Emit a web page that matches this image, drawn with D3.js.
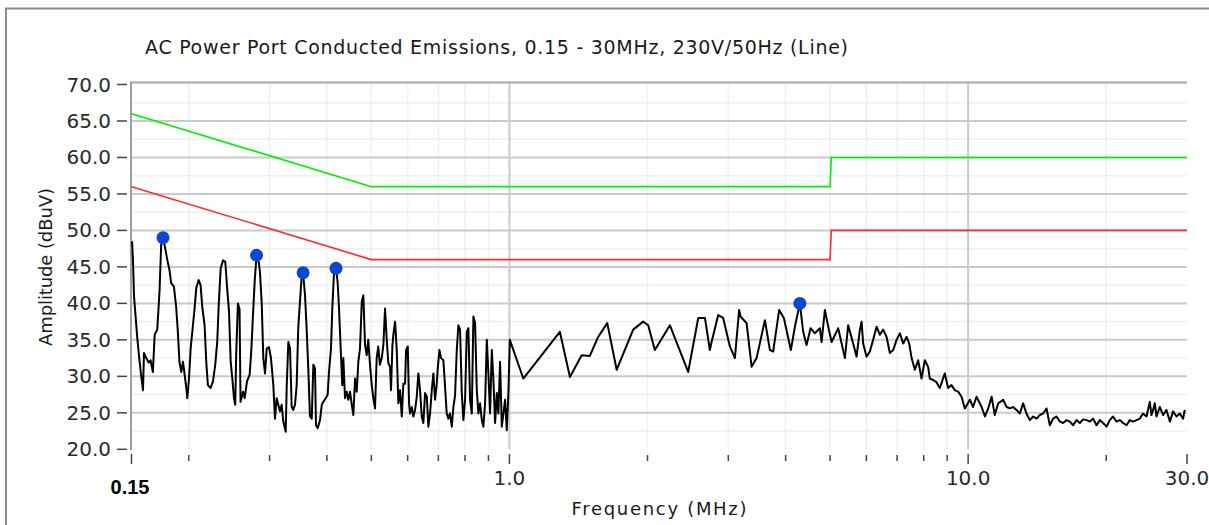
<!DOCTYPE html>
<html lang="en">
<head>
    <meta charset="UTF-8">
    <title>AC Power Port Conducted Emissions</title>
    <script src="https://d3js.org/d3.v7.min.js"></script>
    <style>
        body { margin: 0; background: #fff; }
        svg { font-family: "DejaVu Sans", Verdana, sans-serif; }
        .tick-label { font-size: 20px; fill: #2a2a2a; }
        .title { font-size: 19px; fill: #1a1a1a; }
        .axis-title { font-size: 18px; fill: #1a1a1a; }
        .line { fill: none; }
    </style>
</head>
<body>
    <div id="chart"></div>
    <script>
        // Measured trace: frequency (MHz) and amplitude (dBuV)
        const traceFreq = [
            0.1504, 0.1511, 0.1519, 0.1544, 0.1557, 0.1571, 0.1589, 0.1597, 0.1615, 0.1635,
            0.1651, 0.1670, 0.1685, 0.1707, 0.1727, 0.1741, 0.1757, 0.1777, 0.1795, 0.1816,
            0.1830, 0.1856, 0.1877, 0.1893, 0.1908, 0.1926, 0.1942, 0.1959, 0.1975, 0.1985,
            0.2002, 0.2019, 0.2042, 0.2060, 0.2076, 0.2101, 0.2122, 0.2140, 0.2165, 0.2183,
            0.2201, 0.2231, 0.2258, 0.2284, 0.2307, 0.2324, 0.2347, 0.2375, 0.2402, 0.2423,
            0.2447, 0.2468, 0.2488, 0.2509, 0.2525, 0.2537, 0.2559, 0.2580, 0.2593, 0.2626,
            0.2648, 0.2678, 0.2714, 0.2737, 0.2761, 0.2784, 0.2810,
            0.2844, 0.2858, 0.2884, 0.2907, 0.2932, 0.2957, 0.2991, 0.3021, 0.3057, 0.3082,
            0.3109, 0.3134, 0.3161, 0.3188, 0.3214, 0.3253, 0.3270, 0.3296, 0.3324, 0.3352,
            0.3379, 0.3408, 0.3437, 0.3464, 0.3494, 0.3526, 0.3549, 0.3584, 0.3614, 0.3643,
            0.3674, 0.3707, 0.3737, 0.3768, 0.3787, 0.3819, 0.3864, 0.3898, 0.3929, 0.3976,
            0.4016, 0.4042, 0.4083, 0.4110, 0.4146, 0.4187, 0.4223, 0.4251, 0.4294, 0.4322,
            0.4344, 0.4381, 0.4418, 0.4454, 0.4492, 0.4532, 0.4568, 0.4607, 0.4647, 0.4684,
            0.4723, 0.4765, 0.4803, 0.4844, 0.4885, 0.4924, 0.4966, 0.5010, 0.5050, 0.5093,
            0.5136, 0.5176, 0.5219, 0.5268, 0.5311, 0.5356,
            0.5402, 0.5446, 0.5491, 0.5519, 0.5556, 0.5584, 0.5632, 0.5680, 0.5726, 0.5775,
            0.5825, 0.5872, 0.5922, 0.5952, 0.6003, 0.6042, 0.6072, 0.6125, 0.6174, 0.6227,
            0.6280, 0.6331, 0.6385, 0.6440, 0.6492, 0.6548, 0.6604, 0.6657, 0.6714, 0.6772,
            0.6826, 0.6885, 0.6944, 0.6979, 0.7036, 0.7095, 0.7177, 0.7238, 0.7300, 0.7358,
            0.7420, 0.7488, 0.7548, 0.7612, 0.7677, 0.7739, 0.7805, 0.7873, 0.7936, 0.8004,
            0.8073, 0.8138, 0.8207, 0.8278, 0.8345, 0.8416, 0.8489, 0.8557, 0.8630, 0.8705,
            0.8775, 0.8850, 0.8926, 0.8998, 0.9074, 0.9153, 0.9227, 0.9306, 0.9386, 0.9461,
            0.9541, 0.9625, 0.9702, 0.9784, 0.9868, 0.9947, 1.002,
            1.072, 1.288, 1.355, 1.437, 1.497, 1.561, 1.634, 1.713, 1.861, 1.957,
            2.007, 2.075, 2.238, 2.453, 2.580, 2.668, 2.735, 2.759, 2.852, 2.924,
            3.024, 3.101, 3.168, 3.191, 3.289, 3.373, 3.458, 3.605, 3.697, 3.758,
            3.873, 3.965, 4.107, 4.191, 4.297, 4.369, 4.444, 4.534, 4.633, 4.751,
            4.792, 4.872, 4.954, 5.039, 5.209, 5.387, 5.476,
            5.615, 5.712, 5.808, 5.857, 5.904, 6.005, 6.106, 6.207, 6.314, 6.420,
            6.527, 6.640, 6.751, 6.864, 6.982, 7.099, 7.218, 7.342, 7.439, 7.529,
            7.654, 7.780, 7.914, 8.045, 8.180, 8.250, 8.387, 8.531, 8.674, 8.894,
            9.044, 9.199, 9.354, 9.510, 9.674, 9.836, 10.09, 10.25, 10.43, 10.70,
            10.88, 11.06, 11.25, 11.43, 11.63, 11.92, 12.13, 12.33, 12.54, 12.75,
            12.96, 13.18, 13.40, 13.63, 13.86, 14.10, 14.33, 14.57, 14.82, 15.07,
            15.32, 15.58, 15.85, 16.11, 16.39, 16.66, 16.94, 17.23, 17.52, 17.81,
            18.12, 18.42, 18.73, 19.05, 19.37, 19.69, 20.03, 20.36, 20.70, 21.06,
            21.41, 21.77, 22.14, 22.51, 22.88, 23.28, 23.67, 24.06, 24.48, 24.89,
            25.10, 25.31, 25.52, 25.74, 26.17, 26.61, 27.06, 27.52, 27.98, 28.46,
            28.93, 29.42, 29.67
        ];
        const traceAmp = [
            48.5, 46.0, 41.0, 35.3, 32.9, 30.6, 28.1, 33.2, 32.5, 31.9,
            32.2, 30.6, 35.7, 36.4, 41.8, 48.0, 49.0, 47.5, 46.0, 44.5,
            42.8, 42.3, 39.5, 36.1, 32.0, 30.6, 32.0, 30.2, 28.4, 27.0,
            29.7, 33.9, 37.0, 39.5, 42.1, 43.2, 42.5, 39.5, 37.0, 32.0,
            28.8, 28.4, 29.3, 31.6, 34.8, 39.8, 44.8, 45.9, 45.7, 42.3,
            38.9, 32.0, 29.7, 27.0, 26.1, 33.0, 40.0, 39.2, 26.5, 27.9,
            27.0, 29.3, 30.2, 33.5, 38.6, 43.0, 46.6,
            45.5, 44.3, 40.0, 32.5, 30.4, 33.8, 34.0, 32.5, 28.8, 24.2,
            27.0, 26.1, 25.2, 26.1, 23.8, 22.4, 28.8, 34.7, 33.8, 25.8,
            25.4, 26.1, 28.8, 36.6, 40.2, 43.9, 44.2, 41.1, 36.4, 31.1,
            24.5, 24.2, 31.6, 31.1, 23.3, 22.9, 24.0, 26.1, 26.5, 27.0,
            27.5, 30.6, 33.8, 39.3, 44.3, 44.8, 42.8, 39.3, 32.7, 28.8,
            32.5, 27.0, 27.9, 26.8, 27.9, 26.1, 24.7, 29.7, 27.9, 32.0,
            33.8, 40.2, 41.1, 34.3, 32.9, 35.0, 31.6, 28.8, 27.0, 25.6,
            32.5, 34.1, 31.6, 32.5, 34.3, 39.3,
            35.0, 31.8, 31.3, 28.1, 34.1, 35.7, 37.5, 33.6, 26.3, 28.1,
            24.5, 29.0, 29.0, 33.6, 34.1, 26.3, 24.9, 25.8, 24.5, 25.4,
            27.2, 30.4, 28.1, 24.5, 23.6, 27.7, 27.2, 23.1, 24.9, 28.1,
            30.4, 26.8, 29.0, 31.1, 33.6, 32.5, 32.2, 28.6, 24.9, 24.2,
            24.9, 23.1, 25.8, 27.4, 33.6, 37.0, 36.4, 27.7, 24.0, 26.8,
            36.1, 36.6, 26.8, 24.9, 38.2, 37.3, 28.1, 24.9, 26.3, 24.0,
            23.1, 26.3, 35.0, 30.4, 24.9, 33.6, 29.5, 23.6, 27.7, 24.9,
            32.0, 23.1, 24.9, 26.8, 22.6, 27.7, 35.0,
            29.7, 36.1, 29.9, 32.9, 32.8, 35.4, 37.3, 30.9, 36.4, 37.5,
            37.0, 33.6, 37.0, 30.6, 38.0, 38.0, 33.6, 34.7, 38.4, 38.0,
            34.1, 32.5, 39.1, 38.2, 37.3, 31.3, 32.5, 37.7, 33.6, 33.4,
            39.1, 38.0, 33.6, 36.8, 40.0, 36.1, 34.3, 36.6, 35.9, 36.6,
            34.7, 39.1, 36.8, 34.7, 36.6, 32.5, 37.0,
            34.5, 32.7, 36.4, 37.5, 34.5, 32.7, 33.4, 35.0, 36.8, 35.7,
            36.4, 35.4, 33.2, 33.6, 35.0, 35.9, 34.5, 35.4, 34.5, 32.5,
            30.9, 32.2, 29.7, 32.2, 31.3, 29.7, 29.5, 29.2, 28.4, 30.4,
            28.4, 28.8, 28.1, 27.9, 27.2, 25.6, 26.8, 25.8, 27.2, 25.8,
            24.5, 25.6, 27.2, 24.7, 26.3, 26.8, 25.8, 25.6, 25.8, 25.4,
            24.9, 26.3, 24.9, 24.0, 24.5, 24.2, 24.7, 24.9, 25.6, 23.3,
            24.2, 24.5, 23.8, 23.6, 24.0, 23.8, 23.3, 24.0, 23.6, 24.1,
            24.0, 23.8, 24.2, 23.3, 24.0, 23.6, 23.1, 24.0, 24.5, 23.8,
            24.0, 23.6, 23.3, 24.0, 23.8, 24.0, 24.2, 24.9, 24.5, 26.5,
            24.7, 25.4, 26.3, 24.5, 25.8, 24.7, 25.4, 23.8, 25.2, 24.5,
            24.9, 24.2, 25.4
        ];

        // Marked peaks
        const peakFreq = [0.1757, 0.2810, 0.3549, 0.4187, 4.297];
        const peakAmp = [49.0, 46.6, 44.2, 44.8, 40.0];

        // Limit lines (quasi-peak in green, average in red)
        const qpLimitFreq = [0.15, 0.5, 5.0, 5.03, 30];
        const qpLimitAmp = [66, 56, 56, 60, 60];
        const avgLimitFreq = [0.15, 0.5, 5.0, 5.03, 30];
        const avgLimitAmp = [56, 46, 46, 50, 50];

        // Axis ticks
        const yTicks = [20, 25, 30, 35, 40, 45, 50, 55, 60, 65, 70];
        const yMinorTicks = [22.5, 27.5, 32.5, 37.5, 42.5, 47.5, 52.5, 57.5, 62.5, 67.5];
        const xLabelTicks = [1, 10, 30];
        const xMinorTicks = [0.2, 0.3, 0.4, 0.5, 0.6, 0.7, 0.8, 0.9, 2, 3, 4, 5, 6, 7, 8, 9, 20];
        const xMajorGrid = [1, 10];

        const width = 1209, height = 525;
        const plot = { left: 131.5, right: 1187, top: 84.5, bottom: 449.3 };

        const svg = d3.select("#chart")
            .append("svg")
            .attr("width", width)
            .attr("height", height);

        const x = d3.scaleLog().domain([0.15, 30]).range([plot.left, plot.right]);
        const y = d3.scaleLinear().domain([20, 70]).range([plot.bottom, plot.top]);

        // Outer frame (only top and left edges visible)
        svg.append("path")
            .attr("d", `M6,${height} V8.5 H${width}`)
            .attr("fill", "none")
            .attr("stroke", "#8c8c8c")
            .attr("stroke-width", 2);

        // Title
        svg.append("text")
            .attr("class", "title")
            .attr("x", 145)
            .attr("y", 54)
            .attr("textLength", 703)
            .text("AC Power Port Conducted Emissions, 0.15 - 30MHz, 230V/50Hz (Line)");

        const grid = svg.append("g");

        // Minor gridlines
        grid.selectAll(".hminor").data(yMinorTicks).join("line")
            .attr("x1", plot.left).attr("x2", plot.right)
            .attr("y1", d => y(d)).attr("y2", d => y(d))
            .attr("stroke", "#f0f0f0").attr("stroke-width", 1.5);
        grid.selectAll(".vminor").data(xMinorTicks).join("line")
            .attr("x1", d => x(d)).attr("x2", d => x(d))
            .attr("y1", plot.top - 2).attr("y2", plot.bottom)
            .attr("stroke", "#f0f0f0").attr("stroke-width", 1.5);

        // Major gridlines
        grid.selectAll(".hmajor").data(yTicks.filter(d => d > 20 && d < 70)).join("line")
            .attr("x1", plot.left).attr("x2", plot.right)
            .attr("y1", d => y(d)).attr("y2", d => y(d))
            .attr("stroke", "#cacaca").attr("stroke-width", 2);
        grid.selectAll(".vmajor").data(xMajorGrid).join("line")
            .attr("x1", d => x(d)).attr("x2", d => x(d))
            .attr("y1", plot.top - 2).attr("y2", plot.bottom)
            .attr("stroke", "#cacaca").attr("stroke-width", 2);

        // Plot border: top edge and left axis
        svg.append("line")
            .attr("x1", plot.left - 1).attr("x2", plot.right)
            .attr("y1", plot.top - 2).attr("y2", plot.top - 2)
            .attr("stroke", "#a8a8a8").attr("stroke-width", 2);
        svg.append("line")
            .attr("x1", plot.left - 0.5).attr("x2", plot.left - 0.5)
            .attr("y1", plot.top - 3).attr("y2", plot.bottom + 1)
            .attr("stroke", "#a0a0a0").attr("stroke-width", 2);

        // Y ticks and labels
        const yAxis = svg.append("g");
        yAxis.selectAll("line").data(yTicks).join("line")
            .attr("x1", 117).attr("x2", 127)
            .attr("y1", d => y(d)).attr("y2", d => y(d))
            .attr("stroke", "#444").attr("stroke-width", 1.5);
        yAxis.selectAll("text").data(yTicks).join("text")
            .attr("class", "tick-label")
            .attr("x", 111)
            .attr("y", d => y(d) + 7)
            .attr("text-anchor", "end")
            .text(d => d3.format(".1f")(d));

        // X ticks and labels
        const xAxis = svg.append("g");
        xAxis.selectAll(".minor").data(xMinorTicks).join("line")
            .attr("x1", d => x(d)).attr("x2", d => x(d))
            .attr("y1", 455).attr("y2", 461)
            .attr("stroke", "#444").attr("stroke-width", 1.5);
        xAxis.selectAll(".major").data([0.15, ...xLabelTicks]).join("line")
            .attr("x1", d => x(d)).attr("x2", d => x(d))
            .attr("y1", 454).attr("y2", 464)
            .attr("stroke", "#444").attr("stroke-width", 1.5);
        xAxis.selectAll("text").data(xLabelTicks).join("text")
            .attr("class", "tick-label")
            .attr("x", d => x(d))
            .attr("y", 485)
            .attr("text-anchor", "middle")
            .text(d => d3.format(".1f")(d));

        // Bold start frequency label
        svg.append("text")
            .attr("x", 130)
            .attr("y", 494)
            .attr("text-anchor", "middle")
            .style("font-family", "'Liberation Sans', Arial, sans-serif")
            .style("font-weight", "bold")
            .style("font-size", "20px")
            .text("0.15");

        // Axis titles
        svg.append("text")
            .attr("class", "axis-title")
            .attr("x", 659)
            .attr("y", 515)
            .attr("text-anchor", "middle")
            .attr("textLength", 175)
            .text("Frequency (MHz)");
        svg.append("text")
            .attr("class", "axis-title")
            .attr("transform", "translate(52,267) rotate(-90)")
            .attr("text-anchor", "middle")
            .attr("textLength", 158)
            .text("Amplitude (dBuV)");

        // Limit lines
        const limitLine = d3.line()
            .x(d => x(d[0]))
            .y(d => y(d[1]));
        svg.append("path")
            .attr("class", "line")
            .attr("d", limitLine(d3.zip(qpLimitFreq, qpLimitAmp)))
            .attr("stroke", "#00ee00")
            .attr("stroke-width", 1.6);
        svg.append("path")
            .attr("class", "line")
            .attr("d", limitLine(d3.zip(avgLimitFreq, avgLimitAmp)))
            .attr("stroke", "#ff2a2a")
            .attr("stroke-width", 1.6);

        // Measured trace
        svg.append("path")
            .attr("class", "line")
            .attr("d", limitLine(d3.zip(traceFreq, traceAmp)))
            .attr("stroke", "#000")
            .attr("stroke-width", 2)
            .attr("stroke-linejoin", "round");

        // Peak markers
        svg.selectAll(".peak").data(d3.zip(peakFreq, peakAmp)).join("circle")
            .attr("cx", d => x(d[0]))
            .attr("cy", d => y(d[1]))
            .attr("r", 6.5)
            .attr("fill", "#0a48d4");
    </script>
</body>
</html>
